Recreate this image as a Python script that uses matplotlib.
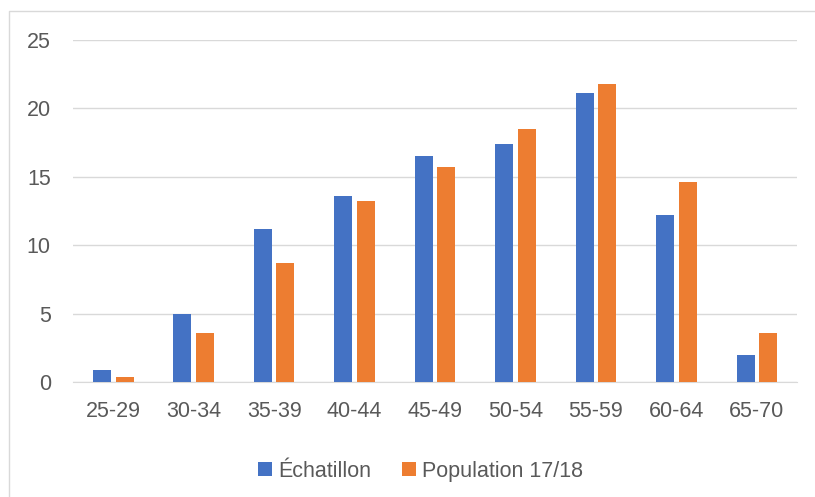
import matplotlib.pyplot as plt
import numpy as np
from matplotlib.lines import Line2D

categories = ["25-29", "30-34", "35-39", "40-44", "45-49", "50-54", "55-59", "60-64", "65-70"]
echantillon = [0.9, 5.0, 11.2, 13.6, 16.5, 17.4, 21.1, 12.2, 2.0]
population = [0.4, 3.6, 8.7, 13.2, 15.7, 18.5, 21.8, 14.65, 3.55]

blue = "#4472C4"
orange = "#ED7D31"
text_gray = "#595959"

plt.rcParams['font.family'] = ['Liberation Sans', 'DejaVu Sans']

fig = plt.figure(figsize=(8.15, 4.97), dpi=100)
ax = fig.add_axes([0.0896, 0.2314, 0.8884, 0.6881])

x = np.arange(len(categories))
w = 0.224
ax.bar(x - 0.14, echantillon, w, color=blue, label="Échatillon", zorder=3)
ax.bar(x + 0.14, population, w, color=orange, label="Population 17/18", zorder=3)

ax.set_xlim(-0.5, len(categories) - 0.5)
ax.set_ylim(0, 25)
ax.set_yticks([0, 5, 10, 15, 20, 25])
ax.set_xticks(x)
ax.set_xticklabels(categories)
ax.grid(axis='y', color="#d9d9d9", linewidth=1, zorder=0)
for s in ["top", "right", "left"]:
    ax.spines[s].set_visible(False)
ax.spines["bottom"].set_color("#d9d9d9")
ax.tick_params(axis='both', length=0, labelsize=15.5, colors=text_gray)
ax.tick_params(axis='y', pad=16)
ax.tick_params(axis='x', pad=13.5)

fig.legend(loc="center", bbox_to_anchor=(0.516, 0.052), ncol=2, frameon=False,
           fontsize=15.5, labelcolor=text_gray, handlelength=0.65, handleheight=0.65,
           handletextpad=0.28, columnspacing=1.4)

# chart frame: only the top and left edges show in the crop
bx, by = 8.5 / 815, 1 - 10.5 / 497
fig.add_artist(Line2D([bx, bx, 1.0], [0.0, by, by], transform=fig.transFigure,
                      color="#d9d9d9", linewidth=1))

fig.savefig("out.png", dpi=100)
